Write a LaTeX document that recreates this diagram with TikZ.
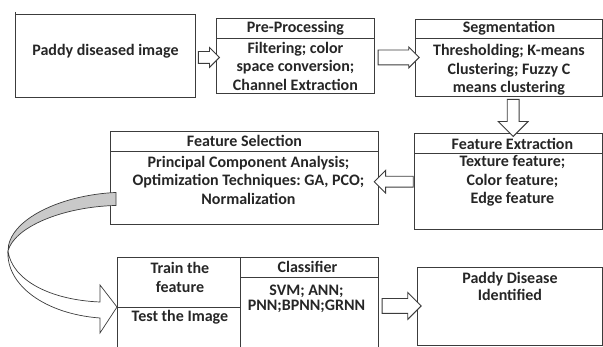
\documentclass[tikz,border=0pt]{standalone}
\usepackage{fontspec}
\setmainfont{Carlito}
\usetikzlibrary{arrows.meta, positioning, shapes.arrows, calc}
\definecolor{boxline}{HTML}{3C3C3C}
\definecolor{ribbon}{HTML}{C9C9C9}
\frenchspacing

\begin{document}
\begin{tikzpicture}[x=1pt, y=-1pt,
    box/.style={draw=boxline, line width=0.9pt, anchor=north west, inner sep=0pt},
    txt/.style={font=\fontsize{16}{18.5}\selectfont\bfseries, text=black!85, align=center, inner sep=0pt},
    blk/.style={single arrow, draw=boxline, line width=0.9pt, fill=white, inner xsep=0pt}]
    \useasboundingbox (0,0) rectangle (603,347);
    \clip (0,0) rectangle (603,347);

    % Boxes
    \node[box, minimum width=180, minimum height=83] (img) at (15,14) {};
    \node[box, minimum width=158, minimum height=75] (pre) at (216,18) {};
    \node[box, minimum width=187, minimum height=77] (seg) at (415,19) {};
    \node[box, minimum width=188, minimum height=96] (fext) at (414,133) {};
    \node[box, minimum width=268, minimum height=93] (fsel) at (110,131) {};
    \node[box, minimum width=123, minimum height=100] (train) at (117,257) {};
    \node[box, minimum width=138, minimum height=100] (cls) at (240,257) {};
    \node[box, minimum width=185, minimum height=78] (ident) at (417,267) {};
    \draw[boxline, line width=1.6pt] ($(img.north west)+(0.5,-2)$) -- ++(0,12);

    % Header lines
    \draw[boxline, line width=0.9pt] ($(pre.north west)+(0,20)$) -- ($(pre.north east)+(0,20)$);
    \draw[boxline, line width=0.9pt] ($(seg.north west)+(0,19)$) -- ($(seg.north east)+(0,19)$);
    \draw[boxline, line width=0.9pt] ($(fext.north west)+(0,20)$) -- ($(fext.north east)+(0,20)$);
    \draw[boxline, line width=0.9pt] ($(fsel.north west)+(0,20)$) -- ($(fsel.north east)+(0,20)$);
    \draw[boxline, line width=0.9pt] ($(train.north west)+(0,50)$) -- ($(train.north east)+(0,50)$);
    \draw[boxline, line width=0.9pt] ($(cls.north west)+(0,20)$) -- ($(cls.north east)+(0,20)$);

    % Texts
    \node[txt] (imgt) at ($(img.center)+(0,-5)$) {Paddy diseased image};
    \node[txt] (pret) at ($(pre.north)+(0,10)$) {Pre-Processing};
    \node[txt] (preb) at ($(pre.center)+(0,10)$) {Filtering; color\\space conversion;\\Channel Extraction};
    \node[txt] (segt) at ($(seg.north)+(0,9.5)$) {Segmentation};
    \node[txt] (segb) at ($(seg.center)+(0,12)$) {Thresholding; K-means\\Clustering; Fuzzy C\\means clustering};
    \node[txt] (fextt) at ($(fext.north)+(4,10.5)$) {Feature Extraction};
    \node[txt] (fextb) at ($(fext.north)+(4,48)$) {Texture feature;\\Color feature;\\Edge feature};
    \node[txt] (fselt) at ($(fsel.north)+(0,10)$) {Feature Selection};
    \node[txt] (fselb) at ($(fsel.north)+(4,49)$) {Principal Component Analysis;\\Optimization Techniques: GA, PCO;\\Normalization};
    \node[txt] (traint) at ($(train.north)+(1,20.5)$) {Train the\\feature};
    \node[txt] (testt) at ($(train.north)+(1,60)$) {Test the Image};
    \node[txt] (clst) at ($(cls.north)+(-2,10)$) {Classifier};
    \node[txt, font=\fontsize{16}{14.5}\selectfont\bfseries] (clsb) at ($(cls.north)+(-3,42)$) {SVM; ANN;\\PNN;BPNN;GRNN};
    \node[txt, font=\fontsize{16}{17}\selectfont\bfseries] (identt) at ($(ident.north)+(0,19.5)$) {Paddy Disease\\Identified};

    % Block arrows
    \node[blk, minimum height=21, inner ysep=5.5, single arrow head extend=4] (a1) at ($(img.east)!0.5!(pre.west)+(0,1.5)$) {};
    \node[blk, minimum height=41, inner ysep=7, single arrow head extend=3] (a2) at ($(pre.east)!0.5!(seg.west)+(0,0.5)$) {};
    \node[blk, minimum height=37, inner xsep=5.5, inner ysep=0pt, single arrow head extend=9, shape border rotate=270] (a3) at ($(seg.south)!0.5!(fext.north)+(4.5,0)$) {};
    \node[blk, minimum height=39, inner ysep=5, single arrow head extend=6, shape border rotate=180] (a4) at ($(fext.west)!0.5!(fsel.east)+(0,2)$) {};
    \node[blk, minimum height=39, inner ysep=7, single arrow head extend=6] (a5) at ($(cls.east)!0.5!(ident.west)+(0,-1)$) {};

    % Curved ribbon arrow
    \coordinate (rt) at ($(fsel.west)+(6,14.5)$);
    \coordinate (rb) at ($(fsel.west)+(6,27.5)$);
    \coordinate (lp) at (8,251);
    \coordinate (tip) at ($(train.north west)+(0,50)$);
    \filldraw[draw=boxline, fill=ribbon, line width=0.7pt]
        (rt) .. controls (60,195) and (8,220) .. (lp) .. controls (14,228) and (60,207) .. (rb) -- cycle;
    \filldraw[draw=boxline, fill=white, line width=0.7pt]
        (lp) .. controls (12,280) and (50,300) .. ($(tip)+(-17,-5)$) -- ($(tip)+(-17,-22)$) -- (tip)
        -- ($(tip)+(-17,26)$) -- ($(tip)+(-17,11)$) .. controls (45,314) and (6,285) .. (lp);
\end{tikzpicture}
\end{document}
